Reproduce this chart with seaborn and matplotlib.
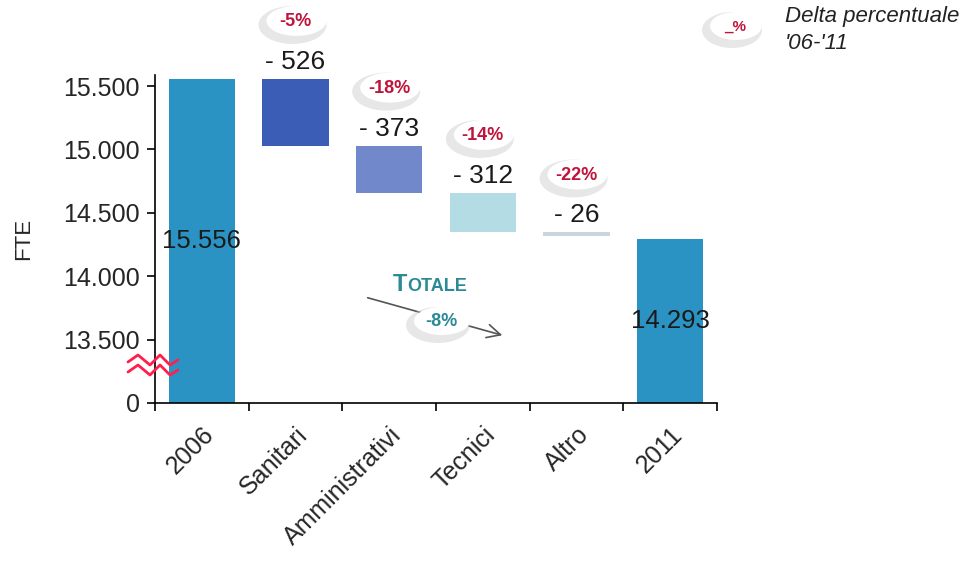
import matplotlib
matplotlib.use('Agg')
import matplotlib.pyplot as plt
import seaborn as sns
import pandas as pd
from matplotlib.patches import Ellipse
from matplotlib.lines import Line2D
from matplotlib.ticker import FixedLocator

# data
categories = ['2006', 'Sanitari', 'Amministrativi', 'Tecnici', 'Altro', '2011']
fte_2006 = 15556
deltas = [-526, -373, -312, -26]
fte_2011 = 14293
delta_pct = ['-5%', '-18%', '-14%', '-22%']
total_pct = '-8%'
ytick_vals = [13500, 14000, 14500, 15000, 15500]
bar_colors = ['#2B93C4', '#3B5DB5', '#7189CA', '#B4DCE4', '#CBD5DC', '#2B93C4']

W, H = 978, 561
BREAK = 13000  # axis value shown as "0"

# running levels for the waterfall
tops, bottoms = [fte_2006], [0]
level = fte_2006
for d in deltas:
    tops.append(level)
    bottoms.append(level + d)
    level = level + d
tops.append(fte_2011)
bottoms.append(0)

sns.set_theme(style='ticks')
plt.rcParams['font.family'] = ['Liberation Sans', 'DejaVu Sans']

fig = plt.figure(figsize=(W / 100, H / 100), dpi=100)
fig.patch.set_facecolor('white')
ax = fig.add_axes([155 / W, 1 - 403 / H, (717 - 155) / W, (403 - 75) / H])

df = pd.DataFrame({'cat': categories, 'top': tops})
sns.barplot(data=df, x='cat', y='top', hue='cat', palette=bar_colors,
            width=0.71, saturation=1, legend=False, ax=ax)
for p, b, t in zip(ax.patches, bottoms, tops):
    p.set_y(b)
    p.set_height(t - b)
    p.set_edgecolor('none')

ax.set_ylim(BREAK, 15587)
ax.set_xlim(-0.5, 5.5)
ax.set_yticks([BREAK] + ytick_vals)
ax.set_yticklabels(['0'] + [f'{v:,}'.replace(',', '.') for v in ytick_vals], fontsize=18)
ax.set_xticks(range(len(categories)))
ax.set_xticklabels(categories, rotation=45, ha='right', rotation_mode='anchor', fontsize=18)
ax.xaxis.set_minor_locator(FixedLocator([i - 0.5 for i in range(len(categories) + 1)]))
ax.tick_params(axis='x', which='major', length=0, pad=14)
ax.tick_params(axis='x', which='minor', length=6, width=1.2, color='black')
ax.tick_params(axis='y', length=6, width=1.2, color='black', pad=5)
ax.set_xlabel('')
ax.set_ylabel('FTE', fontsize=16)
ax.yaxis.set_label_coords(-0.215, 0.5)
sns.despine(ax=ax)
for s in ['left', 'bottom']:
    ax.spines[s].set_color('black')
    ax.spines[s].set_linewidth(1.2)

# totals inside bars
for i in [0, 5]:
    ax.text(i, (BREAK + tops[i]) / 2, f'{tops[i]:,}'.replace(',', '.'),
            ha='center', va='center', fontsize=18.5, color='#1a1a1a')


def bubble(xd, yd, text, color, w=68, h=38, size=13):
    fx, fy = xd / W, yd / H
    fig.add_artist(Ellipse((fx - 3 / W, fy - 3 / H), w / W, h / H, transform=fig.transFigure,
                           facecolor='#c4c4c4', edgecolor='none', alpha=0.4, zorder=5))
    fig.add_artist(Ellipse((fx + 1 / W, fy + 1 / H), (w - 8) / W, (h - 8) / H, transform=fig.transFigure,
                           facecolor='white', edgecolor='none', zorder=6))
    fig.text(fx, fy, text, ha='center', va='center', fontsize=size, fontweight='bold',
             color=color, zorder=7)


# deltas and percentage bubbles
for k, (d, pct) in enumerate(zip(deltas, delta_pct)):
    i = k + 1
    xd, yd = ax.transData.transform((i, tops[i]))
    fig.text(xd / W, (yd + 17) / H, f'- {abs(d)}', ha='center', va='center',
             fontsize=19, color='#1a1a1a')
    bubble(xd, yd + 57, pct, '#C0143C')

# legend bubble
bubble(735, H - 27, '_%', '#C0143C', w=60, h=36, size=11)
fig.text(785 / W, 1 - 6 / H, "Delta percentuale\n'06-'11", ha='left', va='top',
         fontsize=16, style='italic', color='#222222', linespacing=1.4)

# total arrow
ax.annotate('', xy=(505, H - 336), xytext=(365, H - 297), xycoords='figure pixels',
            arrowprops=dict(arrowstyle='->', color='#555555', lw=1.2, mutation_scale=24))
fig.text(393 / W, (H - 291) / H, 'T', ha='left', va='baseline', fontsize=17,
         fontweight='bold', color='#2A8A96')
fig.text(407 / W, (H - 291) / H, 'OTALE', ha='left', va='baseline', fontsize=13,
         fontweight='bold', color='#2A8A96')
bubble(441, H - 322, total_pct, '#2A8A96', w=64, h=36)

# axis break mark
zx = [128, 138, 150, 160, 170, 178]
zy = [362, 355, 365, 355, 365, 360]
for off in [0, 10]:
    fig.add_artist(Line2D([x / W for x in zx], [1 - (y + off) / H for y in zy],
                          transform=fig.transFigure, color='#FF1F4B', lw=2, zorder=8))

fig.savefig('out.png', dpi=100, facecolor='white')
